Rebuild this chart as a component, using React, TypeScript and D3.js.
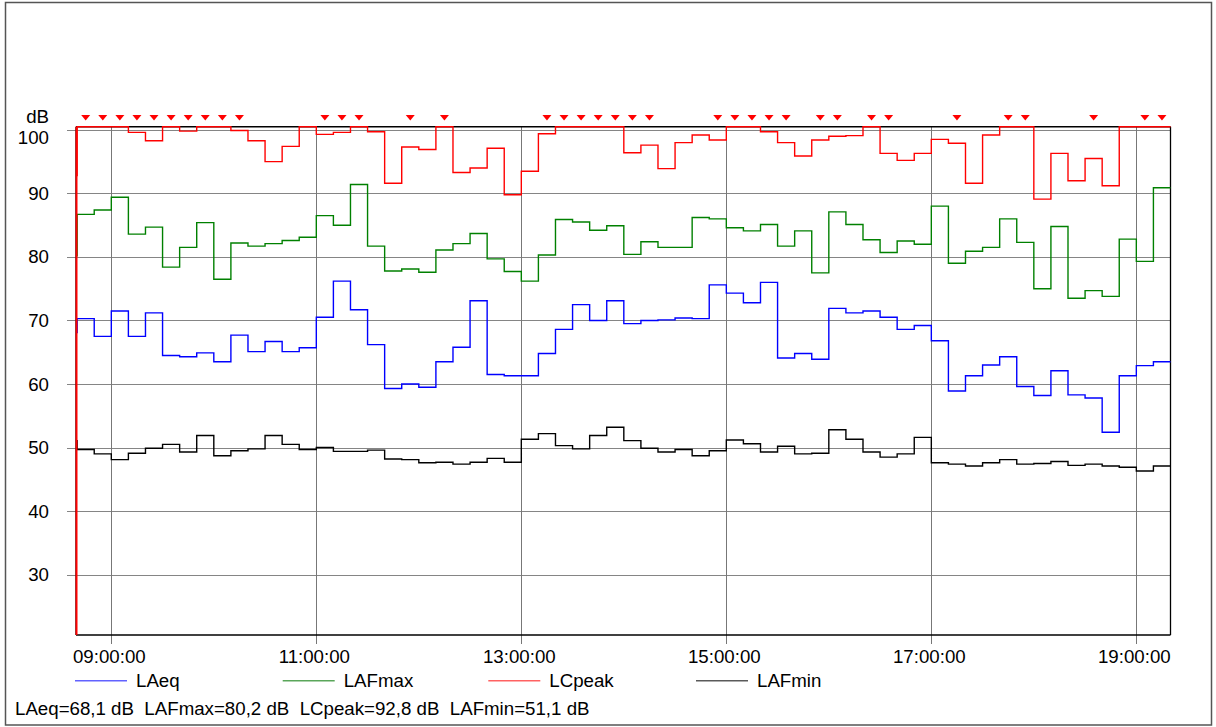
import React from "react";
import * as d3 from "d3";

// 10-minute intervals starting 08:40, cursor sample at 08:39:20
const startTime = "08:39:20";
const firstInterval = "08:40:00";
const endTime = "19:20:00";
const intervalMinutes = 10;

const seriesNames = ["LAeq", "LAFmax", "LCpeak", "LAFmin"];
const seriesColors = ["#0000ff", "#008000", "#ff0000", "#000000"];
const legendColors = ["#6262ff", "#5aa65a", "#ff6262", "#5a5a5a"];

// values at the cursor (first, short sample)
const cursorValues = [68.1, 80.2, 92.8, 51.1];

const laeq = [
  70.3, 67.5, 71.5, 67.5, 71.2, 64.5, 64.3, 64.9, 63.5, 67.7,
  65.1, 66.7, 65.1, 65.7, 70.5, 76.2, 71.7, 66.2, 59.3, 60.0,
  59.5, 63.5, 65.8, 73.1, 61.5, 61.3, 61.3, 64.8, 68.6, 72.5,
  70.0, 73.1, 69.5, 70.0, 70.1, 70.4, 70.3, 75.6, 74.3, 72.8,
  76.0, 64.1, 64.8, 63.9, 71.9, 71.2, 71.5, 70.5, 68.6, 69.2,
  66.8, 58.9, 61.3, 63.0, 64.3, 59.6, 58.2, 62.1, 58.3, 57.8,
  52.4, 61.3, 62.9, 63.5,
];

const lafmax = [
  86.7, 87.4, 89.4, 83.6, 84.7, 78.4, 81.5, 85.4, 76.5, 82.2,
  81.7, 82.1, 82.6, 83.1, 86.5, 85.0, 91.4, 81.7, 77.8, 78.1,
  77.6, 81.1, 82.1, 83.7, 79.7, 77.7, 76.2, 80.3, 85.9, 85.5,
  84.2, 84.9, 80.4, 82.4, 81.5, 81.5, 86.2, 86.0, 84.6, 84.1,
  85.1, 81.7, 84.1, 77.5, 87.1, 85.1, 82.7, 80.7, 82.5, 82.0,
  88.0, 79.0, 80.9, 81.5, 86.0, 82.3, 75.0, 84.8, 73.5, 74.7,
  73.8, 82.8, 79.3, 90.9,
];

const lcpeak = [
  100.5, 100.5, 100.5, 99.6, 98.3, 100.5, 99.8, 100.5, 100.5, 99.9,
  98.3, 95.0, 97.4, 100.5, 99.3, 99.6, 100.5, 99.7, 91.6, 97.3,
  96.9, 100.5, 93.3, 94.0, 97.1, 89.8, 93.5, 99.4, 100.5, 100.5,
  100.5, 100.5, 96.4, 97.6, 93.9, 98.0, 99.2, 98.4, 100.5, 100.5,
  99.7, 98.0, 95.9, 98.4, 99.0, 99.1, 100.5, 96.3, 95.2, 96.3,
  98.5, 97.9, 91.6, 99.2, 100.5, 100.5, 89.1, 96.3, 92.0, 95.5,
  91.2, 100.5, 100.5, 100.5,
];

const lafmin = [
  49.7, 49.0, 48.1, 49.1, 49.9, 50.5, 49.3, 51.9, 48.7, 49.5,
  49.8, 51.9, 50.5, 49.7, 50.0, 49.4, 49.4, 49.6, 48.2, 48.1,
  47.6, 47.7, 47.4, 47.7, 48.3, 47.7, 51.3, 52.2, 50.3, 49.8,
  51.9, 53.2, 51.1, 49.9, 49.3, 49.7, 48.7, 49.5, 51.2, 50.6,
  49.3, 50.2, 49.0, 49.1, 52.8, 51.3, 49.3, 48.5, 49.0, 51.6,
  47.6, 47.4, 47.1, 47.6, 48.1, 47.4, 47.5, 47.8, 47.2, 47.4,
  47.1, 46.9, 46.3, 47.1,
];

// intervals flagged with overload marker
const overloadIdx = [
  0, 1, 2, 3, 4, 5, 6, 7, 8, 9, 14, 15, 16, 19, 21, 27, 28, 29, 30, 31, 32, 33,
  37, 38, 39, 40, 41, 43, 44, 46, 47, 51, 54, 55, 59, 62, 63,
];

const yTicks = [30, 40, 50, 60, 70, 80, 90, 100];
const xTickLabels = ["09:00:00", "11:00:00", "13:00:00", "15:00:00", "17:00:00", "19:00:00"];
const yDomain = [20.5, 100.5];

const W = 1216, H = 727;
const FONT = "'Liberation Sans', Arial, sans-serif";
const FS = 18.7;

const parse = d3.timeParse("%Y-%m-%d %H:%M:%S");
const day = "2020-01-01 ";

export default function App() {
  const margin = { left: 76, right: 1170.5, top: 126.7, bottom: 635 };
  const t0 = parse(day + startTime)!;
  const t1 = parse(day + firstInterval)!;
  const tEnd = parse(day + endTime)!;

  const x = d3.scaleTime().domain([t0, tEnd]).range([margin.left, margin.right]);
  const y = d3.scaleLinear().domain(yDomain).range([margin.bottom, margin.top]);

  const all = [laeq, lafmax, lcpeak, lafmin];
  const times = laeq.map((_, i) => d3.timeMinute.offset(t1, i * intervalMinutes));

  const line = d3
    .line<{ t: Date; v: number }>()
    .x((d) => x(d.t))
    .y((d) => y(d.v))
    .curve(d3.curveStepAfter);

  const paths = all.map((vals, s) => {
    const pts = [{ t: t0, v: cursorValues[s] }]
      .concat(vals.map((v, i) => ({ t: times[i], v })))
      .concat([{ t: tEnd, v: vals[vals.length - 1] }]);
    return line(pts);
  });

  const xTicks = xTickLabels.map((s) => parse(day + s)!);
  const fmt = (v: number) => v.toFixed(1).replace(".", ",");
  const summary = seriesNames.map((n, i) => `${n}=${fmt(cursorValues[i])} dB`).join("  ");

  const legendX = [75, 282.7, 488.3, 696];

  return (
    <svg
      width={W}
      height={H}
      style={{ position: "absolute", left: 0, top: 0, background: "#fff" }}
      fontFamily={FONT}
    >
      <rect x={5.5} y={2.5} width={1206} height={722.5} fill="#fff" stroke="#555" strokeWidth={1.5} />

      <defs>
        <clipPath id="plot">
          <rect x={margin.left} y={margin.top - 1} width={margin.right - margin.left + 1} height={margin.bottom - margin.top + 2} />
        </clipPath>
      </defs>

      {/* horizontal grid with ticks */}
      {yTicks.map((v) => (
        <g key={v}>
          <line x1={67} x2={margin.right} y1={Math.round(y(v)) + 0.5} y2={Math.round(y(v)) + 0.5} stroke="#858585" strokeWidth={1} />
          <text x={49} y={Math.max(y(v), 137.5)} dy="0.35em" textAnchor="end" fontSize={FS} fill="#000">
            {v}
          </text>
        </g>
      ))}
      <text x={49} y={116.7} dy="0.35em" textAnchor="end" fontSize={FS}>dB</text>

      {/* vertical grid with ticks */}
      {xTicks.map((t, i) => (
        <g key={i}>
          <line x1={Math.round(x(t)) + 0.5} x2={Math.round(x(t)) + 0.5} y1={margin.top} y2={644} stroke="#777" strokeWidth={1} />
          <text x={x(t) - 2} y={656} dy="0.35em" textAnchor="middle" fontSize={FS}>
            {xTickLabels[i]}
          </text>
        </g>
      ))}

      {/* plot frame */}
      <line x1={margin.left} x2={margin.right} y1={margin.top} y2={margin.top} stroke="#000" strokeWidth={1.6} />
      <line x1={margin.left} x2={margin.right} y1={margin.bottom} y2={margin.bottom} stroke="#000" strokeWidth={1.6} />
      <line x1={margin.right} x2={margin.right} y1={margin.top} y2={margin.bottom} stroke="#000" strokeWidth={1.3} />
      <line x1={margin.left} x2={margin.left} y1={margin.top} y2={margin.bottom} stroke="#000" strokeWidth={1.3} />

      <g clipPath="url(#plot)">
        {paths.map((d, s) => (
          <path key={s} d={d || ""} fill="none" stroke={seriesColors[s]} strokeWidth={1.4} />
        ))}
      </g>

      {/* cursor */}
      <line x1={x(t0) + 0.5} x2={x(t0) + 0.5} y1={margin.top} y2={margin.bottom} stroke="#ff0000" strokeWidth={2} />

      {/* overload markers */}
      {overloadIdx.map((i) => {
        const cx = x(d3.timeMinute.offset(times[i], intervalMinutes / 2));
        return <path key={i} d={`M${cx - 4.5},115 L${cx + 4.5},115 L${cx},120.5 Z`} fill="#ff0000" />;
      })}

      {/* legend */}
      {seriesNames.map((n, i) => (
        <g key={n}>
          <line x1={legendX[i]} x2={legendX[i] + 52} y1={680.7} y2={680.7} stroke={legendColors[i]} strokeWidth={1.6} />
          <text x={legendX[i] + 61} y={680.7} dy="0.35em" fontSize={FS}>{n}</text>
        </g>
      ))}

      <text x={15} y={708} dy="0.35em" fontSize={FS} style={{ whiteSpace: "pre" }}>
        {summary}
      </text>
    </svg>
  );
}
